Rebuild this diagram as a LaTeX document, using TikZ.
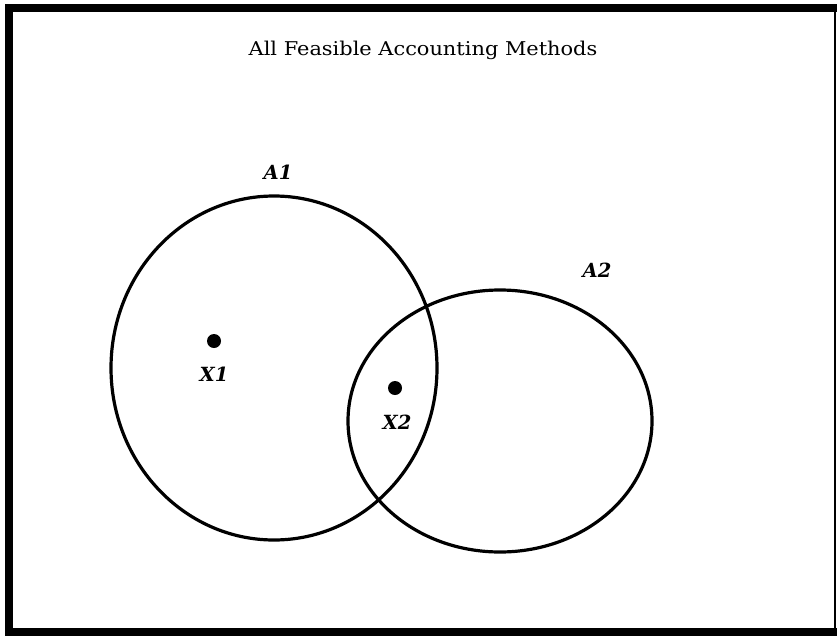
\documentclass[tikz,border=0pt]{standalone}
\usepackage{fontspec}
\setmainfont{DejaVu Serif}
\begin{document}
\begin{tikzpicture}[x=1pt,y=-1pt,
  frame/.style={line width=8pt,line cap=rect},
  setline/.style={line width=3.2pt},
  dot/.style={circle,fill=black,inner sep=0pt,minimum size=14pt},
  lbl/.style={font=\fontsize{19.5}{22}\selectfont\bfseries\itshape,inner sep=0pt},
  ttl/.style={font=\fontsize{19}{22}\selectfont,inner sep=0pt,xscale=1.1}]
\useasboundingbox (0,0) rectangle (837,637);
% frame
\coordinate (tl) at (9,8);
\coordinate (tr) at (835,8);
\coordinate (bl) at (9,632);
\coordinate (br) at (835,632);
\draw[frame] (tl) -- (tr);
\draw[frame] (tl) -- (bl);
\draw[frame] (bl) -- (br);
\draw[line width=2pt] (tr) -- (br);
% title
\node[ttl] (title) at (423,50) {All Feasible Accounting Methods};
% sets
\coordinate (c1) at (274,368);
\coordinate (c2) at (500,421);
\draw[setline] (c1) ellipse [x radius=163, y radius=172];
\draw[setline] (c2) ellipse [x radius=152, y radius=131];
\node[lbl] (A1) at (278,172) {A1};
\node[lbl] (A2) at (597,270) {A2};
% points
\node[dot] (x1) at (214,341) {};
\node[dot] (x2) at (395,388) {};
\node[lbl] (X1) at (214,374) {X1};
\node[lbl] (X2) at (397,422) {X2};
\end{tikzpicture}
\end{document}
